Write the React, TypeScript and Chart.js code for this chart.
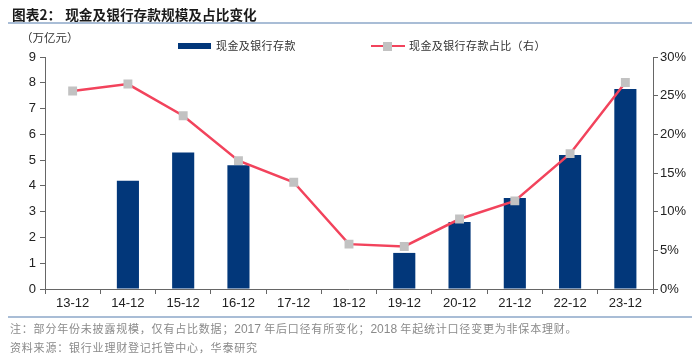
import React, { useEffect, useRef } from "react";
import { Chart, registerables } from "chart.js";

Chart.register(...registerables);

const categories = ["13-12", "14-12", "15-12", "16-12", "17-12", "18-12", "19-12", "20-12", "21-12", "22-12", "23-12"];
const depositValues: (number | null)[] = [null, 4.2, 5.3, 4.8, null, null, 1.4, 2.6, 3.53, 5.2, 7.76];
const shareValues: number[] = [25.6, 26.5, 22.4, 16.6, 13.8, 5.8, 5.5, 9.05, 11.4, 17.5, 26.7];
const leftTicks = [0, 1, 2, 3, 4, 5, 6, 7, 8, 9];
const rightTicks = [0, 5, 10, 15, 20, 25, 30];

const BAR_COLOR = "#02377a";
const LINE_COLOR = "#f2435c";
const MARKER_COLOR = "#c2c2c2";
const AXIS_COLOR = "#666666";
const TICK_FONT = { family: "'Liberation Sans', Arial, sans-serif", size: 13 };
const CJK = "'Noto Sans CJK SC', sans-serif";
const LATIN = "'Liberation Sans', Arial, sans-serif";

export default function App() {
  const canvasRef = useRef<HTMLCanvasElement | null>(null);

  useEffect(() => {
    document.body.style.margin = "0";
    const canvas = canvasRef.current;
    if (!canvas) return;
    const chart = new Chart(canvas, {
      type: "bar",
      data: {
        labels: categories,
        datasets: [
          {
            type: "line",
            label: "现金及银行存款占比（右）",
            data: shareValues,
            yAxisID: "y1",
            borderColor: LINE_COLOR,
            borderWidth: 2.5,
            pointStyle: "rect",
            pointRadius: 6.3,
            pointBackgroundColor: MARKER_COLOR,
            pointBorderWidth: 0,
            tension: 0,
            order: 0,
          } as any,
          {
            type: "bar",
            label: "现金及银行存款",
            data: depositValues,
            yAxisID: "y",
            backgroundColor: BAR_COLOR,
            barPercentage: 0.4,
            categoryPercentage: 1,
            order: 1,
          },
        ],
      },
      options: {
        responsive: false,
        animation: false,
        layout: { padding: { top: 57, bottom: 38, left: 0, right: 0 } },
        plugins: { legend: { display: false }, tooltip: { enabled: false } },
        scales: {
          x: {
            offset: true,
            grid: {
              display: true,
              drawOnChartArea: false,
              drawTicks: true,
              tickLength: 5,
              color: AXIS_COLOR,
              offset: true,
            },
            border: { color: AXIS_COLOR, width: 1 },
            ticks: { font: TICK_FONT, color: "#222", padding: 2, maxRotation: 0 },
            afterFit: (s: any) => {
              s.height = 30;
            },
          },
          y: {
            position: "left",
            min: 0,
            max: 9,
            afterBuildTicks: (s: any) => {
              s.ticks = leftTicks.map((v) => ({ value: v }));
            },
            ticks: { font: TICK_FONT, color: "#222", padding: 4 },
            grid: { drawOnChartArea: false, drawTicks: true, tickLength: 5, color: AXIS_COLOR },
            border: { color: AXIS_COLOR, width: 1 },
            afterFit: (s: any) => {
              s.width = 45;
            },
          },
          y1: {
            position: "right",
            min: 0,
            max: 30,
            afterBuildTicks: (s: any) => {
              s.ticks = rightTicks.map((v) => ({ value: v }));
            },
            ticks: {
              font: TICK_FONT,
              color: "#222",
              padding: 2,
              callback: (v: any) => `${v}%`,
            },
            grid: { drawOnChartArea: false, drawTicks: true, tickLength: 5, color: AXIS_COLOR },
            border: { color: AXIS_COLOR, width: 1 },
            afterFit: (s: any) => {
              s.width = 47;
            },
          },
        },
      },
    });
    return () => chart.destroy();
  }, []);

  const noteStyle: React.CSSProperties = {
    position: "absolute",
    left: 10,
    fontFamily: CJK,
    fontSize: 11,
    letterSpacing: 0.8,
    color: "#8a8a8a",
    whiteSpace: "nowrap",
    lineHeight: "14px",
  };
  const num: React.CSSProperties = { fontFamily: LATIN, fontSize: 12, letterSpacing: 0 };
  const legendText: React.CSSProperties = {
    position: "absolute",
    top: 38,
    fontFamily: CJK,
    fontSize: 11,
    letterSpacing: 0.4,
    color: "#333",
    whiteSpace: "nowrap",
    lineHeight: "15px",
  };

  return (
    <div style={{ position: "absolute", left: 0, top: 0, width: 700, height: 357, background: "#fff", overflow: "hidden" }}>
      <canvas ref={canvasRef} width={700} height={357} style={{ position: "absolute", left: 0, top: 0, width: 700, height: 357 }} />
      <div
        style={{
          position: "absolute",
          left: 12,
          top: 5,
          fontFamily: CJK,
          fontWeight: 700,
          fontSize: 13.7,
          color: "#1a1a1a",
          whiteSpace: "nowrap",
          lineHeight: "18px",
        }}
      >
        <span>图表2：</span>
        <span style={{ marginLeft: 4 }}>现金及银行存款规模及占比变化</span>
      </div>
      <div style={{ position: "absolute", left: 8, right: 8, top: 22, height: 2, background: "#a9bdd6" }} />
      <div
        style={{
          position: "absolute",
          left: 21,
          top: 29,
          fontFamily: CJK,
          fontSize: 11.5,
          color: "#333",
          whiteSpace: "nowrap",
          lineHeight: "16px",
        }}
      >
        （万亿元）
      </div>
      <div style={{ position: "absolute", left: 178, top: 43, width: 33, height: 6, background: BAR_COLOR }} />
      <div style={{ ...legendText, left: 216 }}>现金及银行存款</div>
      <div style={{ position: "absolute", left: 371, top: 44.5, width: 34, height: 2.5, background: LINE_COLOR }} />
      <div style={{ position: "absolute", left: 383, top: 41.5, width: 9, height: 9, background: MARKER_COLOR }} />
      <div style={{ ...legendText, left: 409 }}>现金及银行存款占比（右）</div>
      <div style={{ position: "absolute", left: 8, right: 8, top: 316, height: 2, background: "#a9bdd6" }} />
      <div style={{ ...noteStyle, top: 321 }}>
        注：部分年份未披露规模，仅有占比数据；<span style={num}>2017</span> 年后口径有所变化；<span style={num}>2018</span> 年起统计口径变更为非保本理财。
      </div>
      <div style={{ ...noteStyle, top: 340 }}>资料来源：银行业理财登记托管中心，华泰研究</div>
    </div>
  );
}
